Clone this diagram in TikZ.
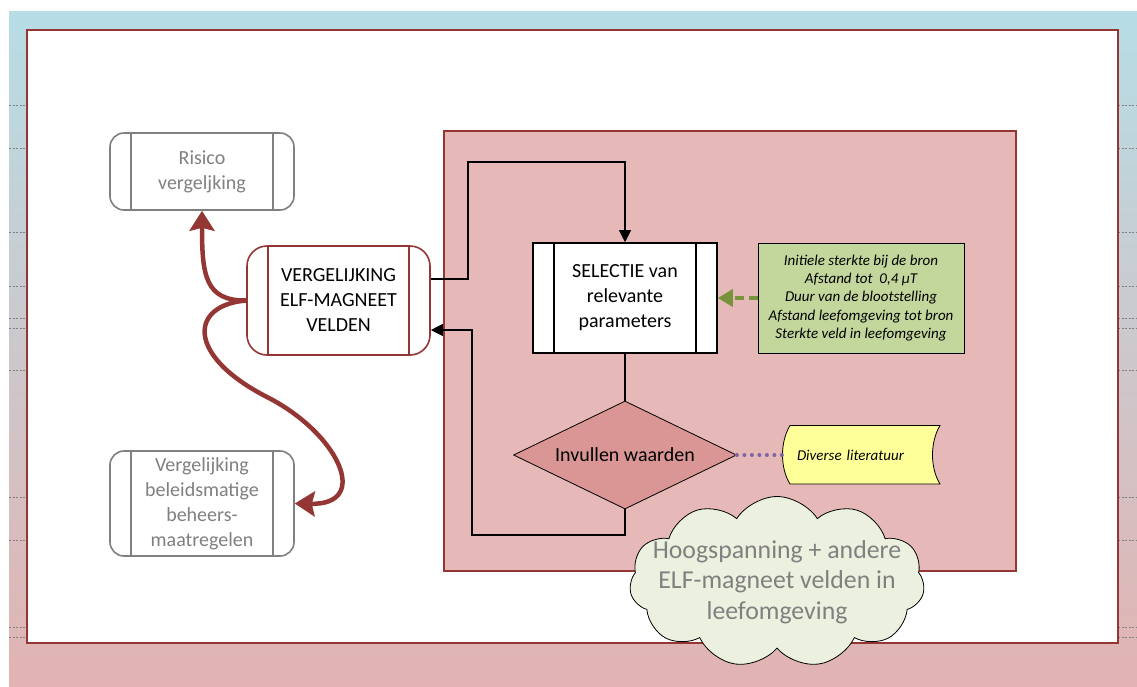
\documentclass[tikz,border=0pt]{standalone}
\usepackage{fontspec}
\setmainfont{Carlito}
\usetikzlibrary{arrows.meta,shapes.geometric,shapes.symbols}

\definecolor{framered}{HTML}{943634}
\definecolor{panelpink}{HTML}{E6B9B8}
\definecolor{bottompink}{HTML}{E2B3B2}
\definecolor{skyblue}{HTML}{B7DDE6}
\definecolor{boxgray}{HTML}{808080}
\definecolor{paramgreen}{HTML}{C3D69B}
\definecolor{arrowgreen}{HTML}{77933C}
\definecolor{valuepink}{HTML}{D99694}
\definecolor{litpurple}{HTML}{8064A2}
\definecolor{lityellow}{HTML}{FFFF99}
\definecolor{cloudgreen}{HTML}{EBF1DE}

\newcommand{\boxfont}{\fontsize{20}{25}\selectfont}
\newcommand{\smallfont}{\fontsize{15}{18.2}\selectfont}
\newcommand{\cloudfont}{\fontsize{25.8}{30.5}\selectfont}

\tikzstyle{tick}=[draw=gray, line width=0.6pt, dash pattern=on 2pt off 1.5pt]
\tikzstyle{flow}=[draw=black, line width=1.1pt]
\tikzstyle{flowarrow}=[flow, -{Triangle[length=12pt,width=12pt]}]
\tikzstyle{bigarrow}=[draw=framered, line width=4.5pt, -{Stealth[length=20pt,width=25pt,inset=3pt]}]
\tikzstyle{paramarrow}=[draw=arrowgreen, line width=3.5pt, dash pattern=on 9pt off 5pt, -{Triangle[length=15pt,width=17pt]}]
\tikzstyle{litline}=[draw=litpurple, line width=4pt, line cap=round, dash pattern=on 0pt off 7.5pt]
\tikzset{
  procbox/.style={draw=#1, line width=1.6pt, align=center, inner sep=0pt,
    path picture={
      \draw[#1, line width=1.6pt]
        ([xshift=21pt]path picture bounding box.north west) --
        ([xshift=21pt]path picture bounding box.south west)
        ([xshift=-21pt]path picture bounding box.north east) --
        ([xshift=-21pt]path picture bounding box.south east);
    }},
}

\begin{document}
\begin{tikzpicture}[x=1pt,y=-1pt]

   \useasboundingbox (0,0) rectangle (1137,686);

   % Page background and frame

   \shade[top color=skyblue, bottom color=bottompink] (9,11) rectangle (1137,686);
   \foreach \y in {105,148,232,286,318,328,370,497,540,627,637} {
      \draw[tick] (9,\y) -- (27,\y);
      \draw[tick] (1118,\y) -- (1137,\y);
   }
   \filldraw[fill=white, draw=framered, line width=2.5pt] (27,30) rectangle (1118,643);

   % Parameter panel

   \filldraw[fill=panelpink, draw=framered, line width=2.5pt] (444,131) rectangle (1016,571);

   % Left column

   \node[procbox=boxgray, rounded corners=14pt, minimum width=184pt,
      minimum height=77pt, text=boxgray, font=\boxfont] (risico) at (202,171.5)
      {Risico\\vergeljking};
   \node[procbox=framered, fill=white, rounded corners=20pt, minimum width=183pt,
      minimum height=109pt, font=\boxfont] (verg) at (338.5,300.5)
      {VERGELIJKING\\ELF-MAGNEET\\VELDEN};
   \node[procbox=boxgray, rounded corners=14pt, minimum width=184pt,
      minimum height=105pt, text=boxgray, font=\boxfont] (beleid) at (202,503.5)
      {Vergelijking\\beleidsmatige\\beheers-\\maatregelen};

   % Selection and input

   \node[procbox=black, fill=white, minimum width=184pt, minimum height=110pt,
      font=\boxfont] (selectie) at (625,298)
      {SELECTIE van\\relevante\\parameters};
   \node[draw=black, fill=paramgreen, line width=0.8pt, minimum width=206pt,
      minimum height=110pt, align=center, font=\smallfont\itshape] (param) at (861,298)
      {Initiele sterkte bij de bron\\Afstand tot \ 0,4 µT\\Duur van de blootstelling\\
       Afstand leefomgeving tot bron\\Sterkte veld in leefomgeving};
   \node[diamond, shape aspect=2.06, draw=black, line width=0.8pt, fill=valuepink,
      minimum width=223pt, minimum height=108pt, inner sep=0pt, font=\boxfont]
      (invul) at (625,455) {Invullen waarden};

   \filldraw[fill=lityellow, draw=black, line width=0.8pt] (790,425.5) -- (940,425.5)
      .. controls (930,442) and (930,468) .. (940,484)
      -- (790,484) .. controls (780,468) and (780,442) .. (790,425.5) -- cycle;
   \node[minimum width=150pt, minimum height=59pt, text width=128pt, inner xsep=11pt,
      align=left, font=\smallfont\itshape] (lit) at (861,455) {Diverse literatuur};

   \node[cloud, cloud puffs=11, cloud puff arc=115, cloud ignores aspect, draw=black,
      fill=cloudgreen, line width=0.8pt, minimum width=295pt, minimum height=171pt,
      inner xsep=-40pt, inner ysep=-20pt, align=center, text=boxgray,
      font=\cloudfont] (hoog) at (777,582)
      {Hoogspanning + andere\\ELF-magneet velden in\\leefomgeving};

   % Connectors

   \draw[flowarrow] ([yshift=21.5pt]verg.east) -| (468,162) -| (selectie.north);
   \draw[flow] (selectie.south) -- (invul.north);
   \draw[flowarrow] (invul.south) |- (472,535) |- ([yshift=-29.5pt]verg.east);
   \draw[paramarrow] (param.west) -- (selectie.east);
   \draw[litline] (invul.east) -- (lit.west);

   \draw[bigarrow] (verg.west) .. controls (205,301) and (202,275) .. (risico.south);
   \draw[bigarrow] (verg.west) .. controls (190,305) and (185,355) .. (267,397)
      .. controls (338,433) and (372,505) .. (beleid.east);

\end{tikzpicture}
\end{document}
